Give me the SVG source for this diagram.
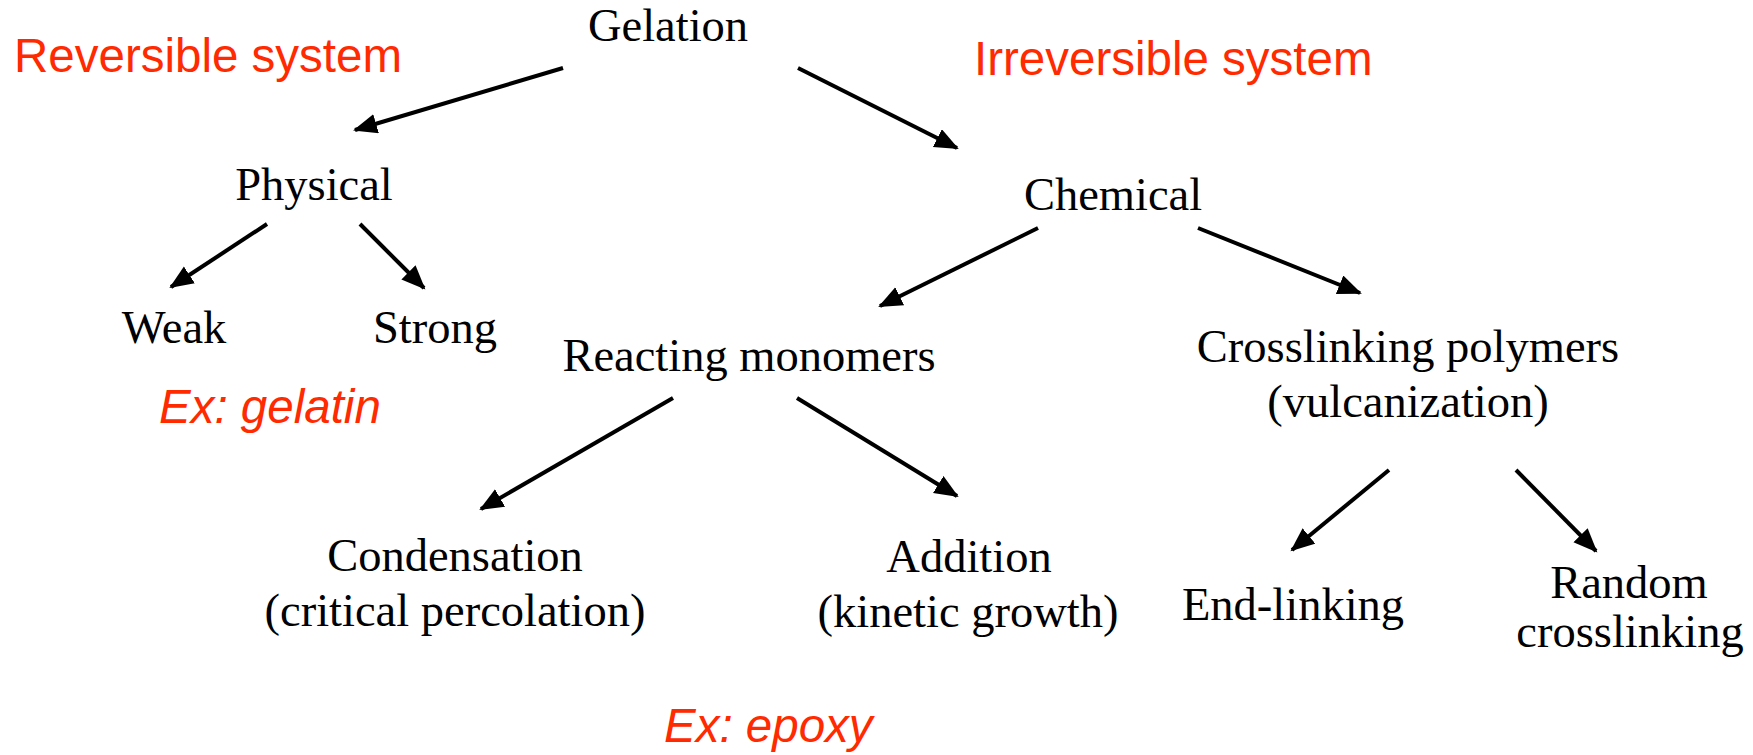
<svg xmlns="http://www.w3.org/2000/svg" width="1753" height="755" viewBox="0 0 1753 755">
<style>
.n{font-family:"Liberation Serif","Times New Roman",serif;font-size:46.5px;fill:#000;text-anchor:middle}
.r{font-family:"Liberation Sans",Arial,sans-serif;font-size:47.5px;fill:#ff2a00}
.i{font-style:italic}
.c{stroke:#000;stroke-width:4;fill:none;marker-end:url(#ah)}
</style>
<defs>
<marker id="ah" markerUnits="userSpaceOnUse" markerWidth="26" markerHeight="22" refX="22" refY="10" orient="auto">
<path d="M0,0 L24,10 L0,20 Z" fill="#000"/>
</marker>
</defs>
<rect width="1753" height="755" fill="#fff"/>
<g id="connectors">
<line class="c" x1="563" y1="68" x2="355" y2="130"/>
<line class="c" x1="798" y1="68" x2="957" y2="148"/>
<line class="c" x1="267" y1="224" x2="171" y2="287"/>
<line class="c" x1="360" y1="224" x2="424" y2="288"/>
<line class="c" x1="1038" y1="228" x2="880" y2="306"/>
<line class="c" x1="1198" y1="228" x2="1360" y2="293"/>
<line class="c" x1="673" y1="398" x2="481" y2="509"/>
<line class="c" x1="797" y1="398" x2="957" y2="496"/>
<line class="c" x1="1389" y1="470" x2="1292" y2="550"/>
<line class="c" x1="1516" y1="470" x2="1596" y2="551"/>
</g>
<g id="gelation"><text class="n" x="668" y="41">Gelation</text></g>
<g id="physical"><text class="n" x="314" y="200">Physical</text></g>
<g id="weak"><text class="n" x="174" y="343">Weak</text></g>
<g id="strong"><text class="n" x="435" y="343">Strong</text></g>
<g id="chemical"><text class="n" x="1113" y="210">Chemical</text></g>
<g id="reacting"><text class="n" x="749" y="371">Reacting monomers</text></g>
<g id="crosslinking"><text class="n" x="1408" y="362">Crosslinking polymers</text><text class="n" x="1408" y="417">(vulcanization)</text></g>
<g id="condensation"><text class="n" x="455" y="571">Condensation</text><text class="n" x="455" y="626">(critical percolation)</text></g>
<g id="addition"><text class="n" x="969" y="572">Addition</text><text class="n" x="968" y="627">(kinetic growth)</text></g>
<g id="endlinking"><text class="n" x="1293" y="620">End-linking</text></g>
<g id="random"><text class="n" x="1629" y="598">Random</text><text class="n" x="1630" y="647">crosslinking</text></g>
<g id="annotations">
<text class="r" x="14" y="72">Reversible system</text>
<text class="r" x="974" y="75">Irreversible system</text>
<text class="r i" x="159" y="423">Ex: gelatin</text>
<text class="r i" x="664" y="742">Ex: epoxy</text>
</g>
</svg>
